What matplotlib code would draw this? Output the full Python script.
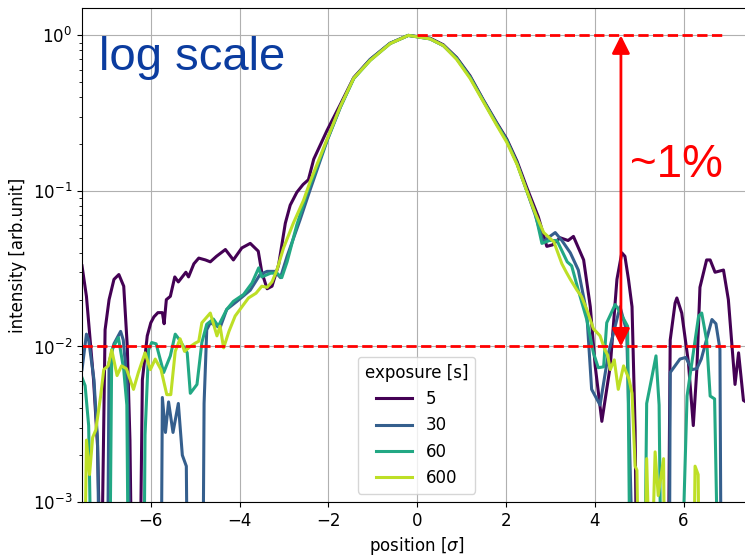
import matplotlib
matplotlib.use("Agg")
import matplotlib.pyplot as plt
import numpy as np

# exposure times [s] shown in the legend
exposures = ["5", "30", "60", "600"]

# values below 1e-3 are clipped by the axis, 2e-4 stands for "off the bottom"
x_5 = [-7.55, -7.45, -7.29, -7.2, -7.12, -7.03, -6.94, -6.83, -6.72, -6.61, -6.53, -6.47, -6.42,
       -6.25, -6.19, -6.08, -6.0, -5.93, -5.84, -5.74, -5.7, -5.65, -5.56, -5.46, -5.38, -5.21,
       -5.15, -5.03, -4.92, -4.77, -4.66, -4.52, -4.32, -4.14, -3.95, -3.76, -3.58, -3.5, -3.38,
       -3.27, -3.12, -2.97, -2.86, -2.71, -2.57, -2.45, -2.33, -2.03, -1.73, -1.43, -1.06, -0.61,
       -0.2, 0.29, 0.59, 0.89, 1.19, 1.49, 1.79, 2.02, 2.25, 2.47, 2.73, 2.92, 3.05, 3.22, 3.4,
       3.52, 3.75, 3.9, 4.01, 4.16, 4.35, 4.5, 4.61, 4.68, 4.76, 4.84, 4.91, 4.95, 5.65, 5.7,
       5.81, 5.85, 5.96, 6.11, 6.22, 6.3, 6.37, 6.52, 6.6, 6.71, 6.9, 7.01, 7.16, 7.24, 7.35, 7.52]
y_5 = [0.033, 0.021, 0.0061, 0.0023, 0.0002, 0.0128, 0.020, 0.027, 0.029, 0.0244, 0.010, 0.0025, 0.0002,
       0.0002, 0.0061, 0.0117, 0.0142, 0.0155, 0.0165, 0.0165, 0.014, 0.020, 0.021, 0.028, 0.026, 0.030,
       0.028, 0.034, 0.037, 0.036, 0.035, 0.038, 0.042, 0.036, 0.043, 0.046, 0.041, 0.030, 0.0235,
       0.0244, 0.0336, 0.062, 0.081, 0.098, 0.11, 0.118, 0.160, 0.245, 0.36, 0.535, 0.70, 0.89,
       1.0, 0.96, 0.87, 0.72, 0.55, 0.385, 0.275, 0.215, 0.155, 0.105, 0.068, 0.044, 0.045, 0.050, 0.048,
       0.051, 0.036, 0.018, 0.0075, 0.0033, 0.0075, 0.027, 0.040, 0.038, 0.027, 0.018, 0.0029, 0.0002, 0.0002, 0.011,
       0.019, 0.0205, 0.0164, 0.0079, 0.0031, 0.0071, 0.024, 0.036, 0.036, 0.030, 0.031, 0.020, 0.0057, 0.0091, 0.0045, 0.0042]

x_30 = [-7.55, -7.45, -7.4, -7.28, -7.2, -7.15, -6.98, -6.94, -6.83, -6.68, -6.62, -6.53, -6.45,
        -5.77, -5.74, -5.67, -5.6, -5.5, -5.38, -5.29, -5.2, -5.17, -4.83, -4.8, -4.74, -4.66,
        -4.44, -4.29, -4.06, -3.76, -3.54, -3.38, -3.2, -3.08, -2.93, -2.64, -2.41, -2.03, -1.73,
        -1.43, -1.06, -0.61, -0.2, 0.29, 0.59, 0.89, 1.19, 1.49, 1.79, 2.02, 2.25, 2.47, 2.66, 2.84,
        2.95, 3.11, 3.26, 3.45, 3.63, 3.82, 3.93, 4.12, 4.31, 4.57, 4.72, 4.88, 5.68, 5.7, 5.92,
        6.05, 6.19, 6.3, 6.4, 6.64, 6.73, 6.82, 6.85, 7.52]
y_30 = [0.0071, 0.012, 0.011, 0.0061, 0.0025, 0.0002, 0.0002, 0.0079, 0.0104, 0.0125, 0.011, 0.0056, 0.0002,
        0.0002, 0.0047, 0.0028, 0.0044, 0.0028, 0.0043, 0.0020, 0.0017, 0.0002, 0.0002, 0.0043, 0.0128, 0.0142,
        0.0132, 0.0173, 0.0195, 0.023, 0.029, 0.0304, 0.0304, 0.0277, 0.038, 0.065, 0.102, 0.21, 0.345,
        0.53, 0.70, 0.89, 1.0, 0.95, 0.86, 0.71, 0.54, 0.38, 0.27, 0.21, 0.15, 0.10, 0.070, 0.047,
        0.050, 0.054, 0.048, 0.040, 0.031, 0.0164, 0.0053, 0.0042, 0.0091, 0.018, 0.0125, 0.0002, 0.0002, 0.0068, 0.0083,
        0.0085, 0.0071, 0.0072, 0.0083, 0.0149, 0.014, 0.0096, 0.0002, 0.0002]

x_60 = [-7.55, -7.48, -7.4, -7.33, -6.93, -6.88, -6.73, -6.61, -6.54, -6.5, -6.16, -6.13, -6.05,
        -5.98, -5.88, -5.71, -5.56, -5.45, -5.35, -5.18, -5.11, -4.96, -4.85, -4.74, -4.59, -4.48,
        -4.29, -4.14, -3.91, -3.72, -3.57, -3.5, -3.3, -3.16, -3.05, -2.93, -2.71, -2.48, -2.03,
        -1.73, -1.43, -1.06, -0.61, -0.2, 0.29, 0.59, 0.89, 1.19, 1.49, 1.79, 2.02, 2.25, 2.47, 2.66,
        2.81, 2.98, 3.15, 3.38, 3.48, 3.63, 3.82, 3.97, 4.08, 4.2, 4.27, 4.46, 4.55, 4.74, 4.8, 5.12,
        5.17, 5.27, 5.38, 5.45, 5.5, 5.94, 6.08, 6.22, 6.34, 6.41, 6.52, 6.6, 6.7, 6.79, 7.52]
y_60 = [0.0063, 0.0056, 0.0031, 0.0002, 0.0002, 0.0095, 0.0114, 0.0071, 0.0042, 0.0002, 0.0002, 0.0027, 0.0095,
        0.0106, 0.0104, 0.0068, 0.0087, 0.012, 0.011, 0.0091, 0.0050, 0.0057, 0.0106, 0.0139, 0.015, 0.0135,
        0.0173, 0.0195, 0.0216, 0.0256, 0.032, 0.028, 0.0296, 0.0296, 0.0277, 0.035, 0.0606, 0.097, 0.212,
        0.347, 0.527, 0.69, 0.885, 1.0, 0.95, 0.86, 0.71, 0.54, 0.38, 0.27, 0.21, 0.15, 0.10, 0.072,
        0.046, 0.048, 0.048, 0.035, 0.033, 0.023, 0.0149, 0.0091, 0.0073, 0.0074, 0.0142, 0.0186, 0.017, 0.0135, 0.0002, 0.0002,
        0.0043, 0.006, 0.0087, 0.0042, 0.0002, 0.0002, 0.0048, 0.0091, 0.0157, 0.0164, 0.011, 0.0048, 0.0046, 0.0002, 0.0002]

x_600 = [-7.55, -7.5, -7.45, -7.38, -7.31, -7.24, -7.13, -7.06, -6.96, -6.88, -6.76, -6.66, -6.55,
         -6.39, -6.28, -6.13, -6.01, -5.9, -5.77, -5.64, -5.55, -5.45, -5.34, -5.24, -5.11, -5.0,
         -4.92, -4.85, -4.66, -4.51, -4.44, -4.36, -4.24, -4.1, -3.91, -3.8, -3.63, -3.5, -3.38,
         -3.27, -3.16, -3.01, -2.79, -2.56, -2.41, -2.03, -1.73, -1.43, -1.06, -0.61, -0.2, 0.29,
         0.59, 0.89, 1.19, 1.49, 1.79, 2.02, 2.25, 2.47, 2.66, 2.85, 3.08, 3.26, 3.36, 3.45, 3.6,
         3.7, 3.82, 3.97, 4.12, 4.23, 4.29, 4.35, 4.44, 4.53, 4.65, 4.77, 4.84, 4.91, 4.95, 5.0,
         5.12, 5.17, 5.26, 5.36, 5.43, 5.55, 5.58, 6.22, 6.26, 6.33, 6.36, 7.52]
y_600 = [0.0002, 0.0002, 0.0025, 0.0015, 0.0026, 0.0029, 0.0048, 0.0071, 0.0075, 0.0095, 0.0065, 0.0075, 0.0072,
         0.0053, 0.0068, 0.0091, 0.0071, 0.0083, 0.0071, 0.0049, 0.0049, 0.0093, 0.0112, 0.0093, 0.010, 0.0105,
         0.0108, 0.0142, 0.0164, 0.0117, 0.0135, 0.0098, 0.0125, 0.0157, 0.0186, 0.0205, 0.022, 0.0244, 0.024,
         0.026, 0.031, 0.043, 0.062, 0.087, 0.115, 0.215, 0.35, 0.53, 0.69, 0.885, 1.0, 0.95,
         0.86, 0.70, 0.53, 0.375, 0.265, 0.205, 0.148, 0.10, 0.072, 0.054, 0.047, 0.034, 0.030, 0.027, 0.023,
         0.021, 0.0173, 0.013, 0.0117, 0.0095, 0.0088, 0.0071, 0.0082, 0.0053, 0.0075, 0.0062, 0.005, 0.0017, 0.0016, 0.0002,
         0.0002, 0.0019, 0.0002, 0.0021, 0.0011, 0.0019, 0.0002, 0.0002, 0.0017, 0.0015, 0.0002, 0.0002]

series_x = [x_5, x_30, x_60, x_600]
series_y = [y_5, y_30, y_60, y_600]

arrow_x = 4.59

plt.rcParams["font.size"] = 12

fig = plt.figure(figsize=(7.45, 5.57), dpi=100)
ax = fig.add_axes([82 / 745, 55 / 557, 669 / 745, 494 / 557])

colors = plt.cm.viridis(np.linspace(0, 0.9, len(exposures)))
for xs, ys, lab, c in zip(series_x, series_y, exposures, colors):
    ax.plot(xs, ys, color=c, lw=2.2, label=lab)

ax.set_yscale("log")
ax.set_xlim(-7.55, 7.52)
ax.set_ylim(1e-3, 1.5)
ax.grid(True, which="major")
ax.set_xlabel(r"position [$\sigma$]")
ax.set_ylabel("intensity [arb.unit]")
ax.legend(title="exposure [s]", loc="lower center", handlelength=2.2)

# 1% level markers
ax.axhline(1e-2, color="red", ls="--", lw=2)
ax.hlines(1.0, 0, 6.95, color="red", ls="--", lw=2)
ax.annotate("", xy=(arrow_x, 1.0), xytext=(arrow_x, 1e-2),
            arrowprops=dict(arrowstyle="<|-|>", color="red", lw=2,
                            mutation_scale=27, shrinkA=0, shrinkB=0))

fig.text(99 / 745, 1 - 70 / 557, "log scale", color="#0b3c9f", fontsize=34,
         family="Liberation Sans", va="baseline")
fig.text(630 / 745, 1 - 177 / 557, "~1%", color="red", fontsize=33,
         family="Liberation Sans", va="baseline")

fig.savefig("out.png", dpi=100)
